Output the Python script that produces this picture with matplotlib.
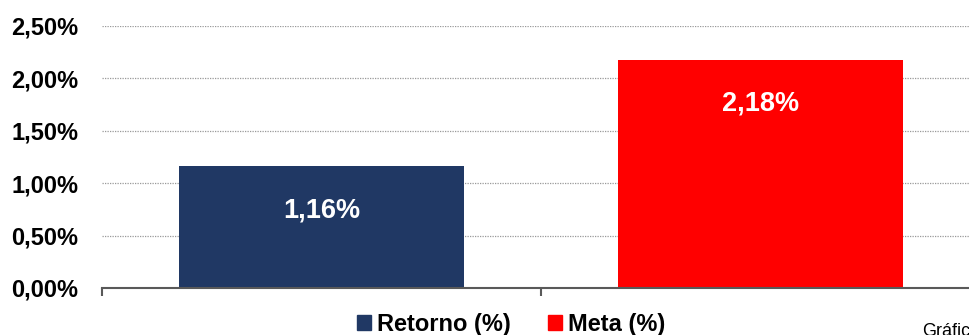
import matplotlib.pyplot as plt
from matplotlib.patches import Patch

plt.rcParams['font.family'] = ['Liberation Sans', 'DejaVu Sans']

series = ['Retorno (%)', 'Meta (%)']
values = [1.16, 2.18]
colors = ['#203864', '#FF0000']
yticks = [0.0, 0.5, 1.0, 1.5, 2.0, 2.5]

fig = plt.figure(figsize=(9.69, 3.35), dpi=100)
ax = fig.add_axes([102 / 969, 47 / 335, 878 / 969, 262 / 335])

pos = [0.5, 1.5]
ax.bar(pos, values, width=0.647, color=colors, zorder=3)
# value labels sit a fixed distance below the top of each bar
for x, v in zip(pos, values):
    ax.text(x, v - 0.42, f'{v:.2f}%'.replace('.', ','),
            ha='center', va='center', color='white', fontsize=19.5, fontweight='bold', zorder=4)

ax.set_xlim(0, 2)
ax.set_ylim(0, 2.5)
ax.set_yticks(yticks)
ax.set_yticklabels([f'{t:.2f}%'.replace('.', ',') for t in yticks], fontsize=17, fontweight='bold')
ax.tick_params(axis='y', length=0, pad=17)
ax.set_xticks([0, 1, 2])
ax.set_xticklabels([])
ax.tick_params(axis='x', length=6, width=1.5, color='#595959', direction='out')

for y in yticks[1:]:
    ax.axhline(y, color='#999999', linestyle=(0, (1, 1)), linewidth=0.9, zorder=1)

for s in ['top', 'right', 'left']:
    ax.spines[s].set_visible(False)
ax.spines['bottom'].set_color('#595959')
ax.spines['bottom'].set_linewidth(1.5)
ax.spines['bottom'].set_zorder(5)

handles = [Patch(color=c, label=s) for c, s in zip(colors, series)]
fig.legend(handles=handles, loc='center', bbox_to_anchor=(511 / 969, 11 / 335), ncol=2,
           frameon=False, handlelength=0.6, handleheight=0.6, handletextpad=0.25,
           columnspacing=1.6, prop={'size': 17, 'weight': 'bold'})

fig.text(922 / 969, 12 / 335, 'Gráfico', fontsize=13, ha='left', va='top')

fig.savefig('out.png', dpi=100)
